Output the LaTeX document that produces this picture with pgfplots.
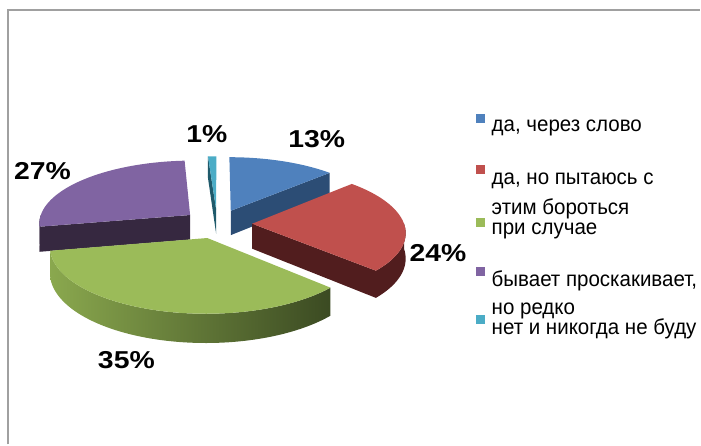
\documentclass[border=0pt]{standalone}
\usepackage{pgfplots}
\pgfplotsset{compat=1.18}
\usepackage{graphicx}
\usepackage{fontspec}
\setmainfont{Liberation Sans}

% ---- data (percent) ----
\def\vA{13}\def\vB{24}\def\vC{35}\def\vD{27}\def\vE{1}
\pgfmathsetmacro\tot{\vA+\vB+\vC+\vD+\vE}
\pgfmathsetmacro\sA{90}
\pgfmathsetmacro\eA{\sA-360*\vA/\tot}
\pgfmathsetmacro\sB{\eA}\pgfmathsetmacro\eB{\sB-360*\vB/\tot}
\pgfmathsetmacro\sC{\eB}\pgfmathsetmacro\eC{\sC-360*\vC/\tot}
\pgfmathsetmacro\sD{\eC}\pgfmathsetmacro\eD{\sD-360*\vD/\tot}
\pgfmathsetmacro\sE{\eD}\pgfmathsetmacro\eE{\sE-360*\vE/\tot}
\pgfmathsetmacro\mA{(\sA+\eA)/2}\pgfmathsetmacro\mB{(\sB+\eB)/2}
\pgfmathsetmacro\mC{(\sC+\eC)/2}\pgfmathsetmacro\mD{(\sD+\eD)/2}
\pgfmathsetmacro\mE{(\sE+\eE)/2}

% ---- geometry (axis units = pixels) ----
\def\cx{217.5}\def\cy{221}\def\A{152}\def\B{63}\def\T{25}\def\kk{0.12}\def\dd{0.23}

\definecolor{blueTop}{HTML}{4F81BD}\definecolor{blueSide}{HTML}{2C4D75}
\definecolor{redTop}{HTML}{C0504D}\definecolor{redSide}{HTML}{511D1E}
\definecolor{greenTop}{HTML}{9BBB59}\definecolor{greenL}{HTML}{8AA84E}\definecolor{greenR}{HTML}{3B4A22}
\definecolor{purpleTop}{HTML}{8064A2}\definecolor{purpleSide}{HTML}{362840}
\definecolor{cyanTop}{HTML}{4BACC6}\definecolor{cyanSide}{HTML}{1F5A6B}
\definecolor{frame}{HTML}{A0A0A0}

\newcommand\pct[1]{\scalebox{1.16}[1]{\bfseries\fontsize{17.4pt}{20pt}\selectfont #1}}
\newcommand\leg[1]{\scalebox{1}[1.05]{\fontsize{14.6pt}{16pt}\selectfont #1}}
\newcommand\legtwo[3]{\scalebox{1}[1.05]{\fontsize{14.6pt}{16pt}\selectfont
  \vtop{\baselineskip=#3\lineskiplimit=-\maxdimen\hbox{#1}\hbox{#2}}}}

\begin{document}
\begin{tikzpicture}[declare function={
  su(\qr,\qa,\qm)=\dd*cos(\qm)+\qr*cos(\qa);
  sv(\qr,\qa,\qm)=\dd*sin(\qm)+\qr*sin(\qa);
  PX(\qr,\qa,\qm)=\cx+\A*su(\qr,\qa,\qm)/(1+\kk*sv(\qr,\qa,\qm));
  PY(\qr,\qa,\qm,\qz)=\cy+(\B*sv(\qr,\qa,\qm)-\T*\qz)/(1+\kk*sv(\qr,\qa,\qm));
  tr(\qp)=min(\qp,1,3-\qp);
  tt(\qp,\qe,\qs)=\qe+min(max(\qp-1,0),1)*(\qs-\qe);
  sT(\qp,\qe,\qs)=\qe+(min(\qp,1)-max(\qp-2,0))*(\qs-\qe);
  sZ(\qp)=min(max(\qp-1,0),1);
}]
\begin{axis}[width=17.525cm, height=11.125cm, scale only axis,
  xmin=0, xmax=701, ymin=0, ymax=445, axis lines=none, clip=false,
  every axis plot/.append style={draw=none, mark=none}]
\path (0,0) rectangle (701,445);
\draw[frame, line width=0.04cm] (8,0) -- (8,435) -- (701,435);

% cyan (1%)
\addplot[fill=cyanSide, samples at={0,1,2,3}, variable=\qp]
  ({PX(tr(\qp),\sE,\mE)},{PY(tr(\qp),\sE,\mE,sZ(\qp))});
\addplot[fill=cyanTop, domain=0:3, samples=61, variable=\qp]
  ({PX(tr(\qp),tt(\qp,\eE,\sE),\mE)},{PY(tr(\qp),tt(\qp,\eE,\sE),\mE,0)});

% blue (13%)
\addplot[fill=blueSide, samples at={0,1,2,3}, variable=\qp]
  ({PX(tr(\qp),\eA,\mA)},{PY(tr(\qp),\eA,\mA,sZ(\qp))});
\addplot[fill=blueTop, domain=0:3, samples=181, variable=\qp]
  ({PX(tr(\qp),tt(\qp,\eA,\sA),\mA)},{PY(tr(\qp),tt(\qp,\eA,\sA),\mA,0)});

% purple (27%)
\addplot[fill=purpleSide, samples at={0,1,2,3}, variable=\qp]
  ({PX(tr(\qp),\sD,\mD)},{PY(tr(\qp),\sD,\mD,sZ(\qp))});
\addplot[fill=purpleSide, domain=0:3, samples=61, variable=\qp]
  ({PX(1,sT(\qp,-180,\sD),\mD)},{PY(1,sT(\qp,-180,\sD),\mD,sZ(\qp))});
\addplot[fill=purpleTop, domain=0:3, samples=241, variable=\qp]
  ({PX(tr(\qp),tt(\qp,\eD,\sD),\mD)},{PY(tr(\qp),tt(\qp,\eD,\sD),\mD,0)});

% red (24%)
\addplot[fill=redSide, samples at={0,1,2,3}, variable=\qp]
  ({PX(tr(\qp),\eB,\mB)},{PY(tr(\qp),\eB,\mB,sZ(\qp))});
\addplot[fill=redSide, domain=0:3, samples=121, variable=\qp]
  ({PX(1,sT(\qp,\eB,0),\mB)},{PY(1,sT(\qp,\eB,0),\mB,sZ(\qp))});
\addplot[fill=redTop, domain=0:3, samples=241, variable=\qp]
  ({PX(tr(\qp),tt(\qp,\eB,\sB),\mB)},{PY(tr(\qp),tt(\qp,\eB,\sB),\mB,0)});

% green (35%)
\addplot[left color=greenL, right color=greenR, domain=0:3, samples=301, variable=\qp]
  ({PX(1,sT(\qp,\eC,\sC),\mC)},{PY(1,sT(\qp,\eC,\sC),\mC,sZ(\qp))});
\addplot[fill=greenTop, domain=0:3, samples=301, variable=\qp]
  ({PX(tr(\qp),tt(\qp,\eC,\sC),\mC)},{PY(tr(\qp),tt(\qp,\eC,\sC),\mC,0)});

% percentage labels
\node[anchor=base] at (207,302) {\pct{1\%}};
\node[anchor=base] at (317,297) {\pct{13\%}};
\node[anchor=base] at (42.5,265) {\pct{27\%}};
\node[anchor=base] at (438.5,183) {\pct{24\%}};
\node[anchor=base] at (126.5,76) {\pct{35\%}};

% legend
\fill[blueTop] (477,322) rectangle (486,331);
\fill[redTop] (477,271) rectangle (486,280);
\fill[greenTop] (477,218) rectangle (486,227);
\fill[purpleTop] (477,169) rectangle (486,178);
\fill[cyanTop] (477,121) rectangle (486,130);
\node[anchor=base west, inner sep=0pt] at (492,313) {\leg{да, через слово}};
\node[anchor=base west, inner sep=0pt] at (492,260) {\leg{да, но пытаюсь с}};
\node[anchor=base west, inner sep=0pt] at (492,230.5) {\legtwo{этим бороться}{при случае}{13.6pt}};
\node[anchor=base west, inner sep=0pt] at (492,158) {\leg{бывает проскакивает,}};
\node[anchor=base west, inner sep=0pt] at (492,130) {\legtwo{но редко}{нет и никогда не буду}{13.3pt}};
\end{axis}
\end{tikzpicture}
\end{document}
